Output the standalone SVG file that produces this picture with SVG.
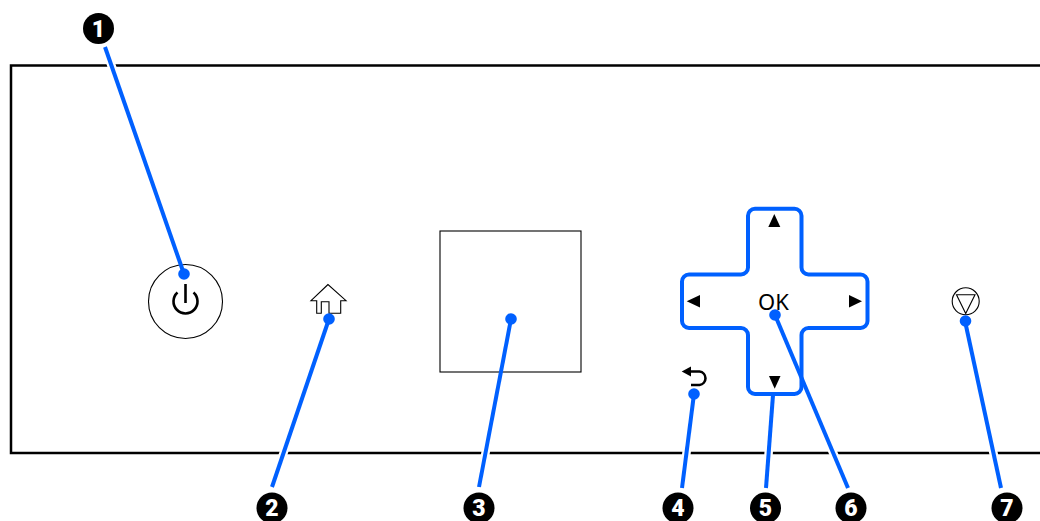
<svg xmlns="http://www.w3.org/2000/svg" width="1040" height="521" viewBox="0 0 1040 521">
<style>
.thin{fill:none;stroke:#000;stroke-width:1.1}
.halo{stroke:#fff;stroke-width:8.5;fill:none}
.lead{stroke:#0060ff;stroke-width:4;fill:none}
.dot{fill:#0060ff}
.ink{fill:#000}
.icon{fill:none;stroke:#000;stroke-width:2.6}
.num{font-family:Roboto,"Liberation Sans",Arial,sans-serif;font-weight:900;font-size:23px;fill:#fff;text-anchor:middle}
</style>
<rect width="1040" height="521" fill="#fff"/>
<path id="frame" d="M1040 65.5H11V453H1040" fill="none" stroke="#000" stroke-width="2.5"/>
<g id="connector-halos" class="halo"><path d="M105 47L184 274"/><path d="M272 487L329 319"/><path d="M479 487L511 319"/><path d="M682 488L694 394"/><path d="M766 488L773 395"/><path d="M848 488L775 315"/><path d="M1001 488L965 321"/></g>
<g id="power-button"><circle class="thin" cx="185.5" cy="301.5" r="37"/><path class="icon" d="M177.5 292.5A12 12 0 1 0 193.5 292.5"/><path class="icon" d="M185.5 284V303"/></g>
<g id="home-button"><path class="thin" d="M328 284.5L311 300.7H316.7V313.3H321.3V301.7H329V313.3H340.7V300.7H346L328 284.5Z"/></g>
<g id="screen"><rect class="thin" x="440" y="231" width="141" height="141"/></g>
<g id="back-button"><path class="ink" d="M681.7 371.5L691 366.5V376.5Z"/><path class="icon" d="M690 371.5H699.5A6.8 6.8 0 0 1 699.5 385H691"/></g>
<g id="dpad">
<path d="M755 208.8H794.5A7 7 0 0 1 801.5 215.8V267.5A7 7 0 0 0 808.5 274.5H860.5A7 7 0 0 1 867.5 281.5V321A7 7 0 0 1 860.5 328H808.5A7 7 0 0 0 801.5 335V387A7 7 0 0 1 794.5 394H755A7 7 0 0 1 748 387V335A7 7 0 0 0 741 328H689A7 7 0 0 1 682 321V281.5A7 7 0 0 1 689 274.5H741A7 7 0 0 0 748 267.5V215.8A7 7 0 0 1 755 208.8Z" fill="#fff" stroke="#0060ff" stroke-width="4"/>
<path class="ink" d="M774.3 214L780.3 227H768.3Z"/>
<path class="ink" d="M686.7 301.3L700 295V307.5Z"/>
<path class="ink" d="M862 301.3L849 295V307.5Z"/>
<path class="ink" d="M774.7 388.7L769 376H780.5Z"/>
<text x="773.5" y="309.5" font-family="'Noto Sans','Liberation Sans',Arial,sans-serif" font-size="22" text-anchor="middle" fill="#000">OK</text>
</g>
<g id="stop-button"><circle class="thin" cx="965.7" cy="301.3" r="13.5"/><path class="thin" d="M956.5 294.7H975L965.7 313.5Z"/></g>
<g id="connectors">
<g class="lead"><path d="M105 47L184 274"/><path d="M272 487L329 319"/><path d="M479 487L511 319"/><path d="M682 488L694 394"/><path d="M766 488L773 395"/><path d="M848 488L775 315"/><path d="M1001 488L965 321"/></g>
<g class="dot"><circle cx="184" cy="274" r="5.8"/><circle cx="329" cy="319" r="5.8"/><circle cx="511" cy="319" r="5.8"/><circle cx="694" cy="394" r="5.8"/><circle cx="775" cy="315" r="5.8"/><circle cx="965.5" cy="321" r="5.8"/></g>
</g>
<g id="callout-1"><circle class="ink" cx="98.5" cy="28.5" r="15.5"/><text class="num" x="98.5" y="36.5">1</text></g>
<g id="callout-2"><circle class="ink" cx="272" cy="508" r="15.5"/><text class="num" x="272" y="516">2</text></g>
<g id="callout-3"><circle class="ink" cx="479" cy="508" r="15.5"/><text class="num" x="479" y="516">3</text></g>
<g id="callout-4"><circle class="ink" cx="678" cy="508" r="15.5"/><text class="num" x="678" y="516">4</text></g>
<g id="callout-5"><circle class="ink" cx="765.5" cy="508" r="15.5"/><text class="num" x="765.5" y="516">5</text></g>
<g id="callout-6"><circle class="ink" cx="851" cy="508" r="15.5"/><text class="num" x="851" y="516">6</text></g>
<g id="callout-7"><circle class="ink" cx="1007" cy="508" r="15.5"/><text class="num" x="1007" y="516">7</text></g>
</svg>
